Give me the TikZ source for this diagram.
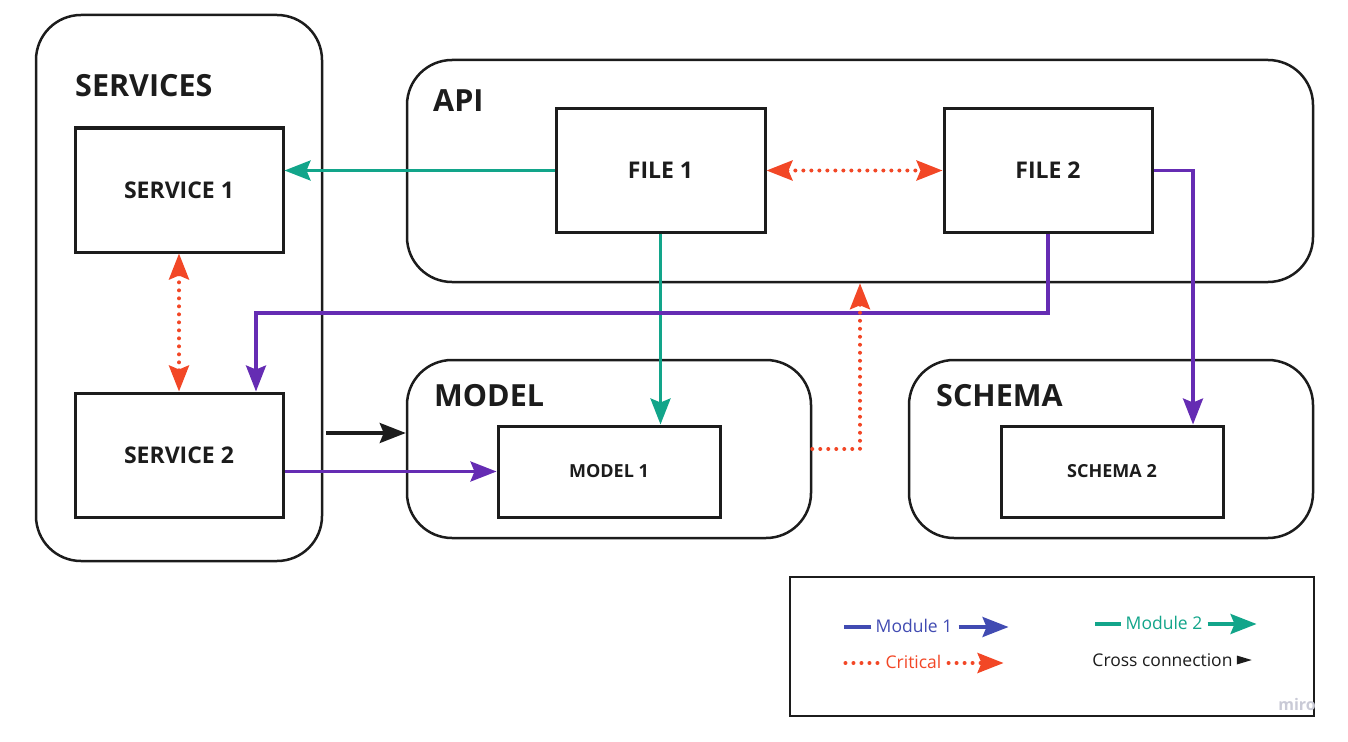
\documentclass[tikz,border=0pt]{standalone}
\usepackage{fontspec}
\setmainfont{Open Sans}
\usetikzlibrary{arrows.meta,calc}
\definecolor{mgreen}{HTML}{12A58A}
\definecolor{mpurple}{HTML}{652CB3}
\definecolor{mred}{HTML}{F24726}
\definecolor{mblue}{HTML}{414BB2}
\definecolor{ink}{HTML}{1C1C1C}
\definecolor{wm}{HTML}{C9CAD6}
\tikzset{
  >={Stealth[length=26pt,width=20pt,inset=4pt]},
  container/.style={draw=ink, line width=2.5pt, rounded corners=45pt, inner sep=0pt},
  box/.style={draw=ink, line width=3pt, fill=white, inner sep=0pt, text=ink,
              font=\bfseries\fontsize{23}{27}\selectfont},
  smallbox/.style={box, font=\bfseries\fontsize{18}{22}\selectfont},
  title/.style={anchor=base west, inner sep=0pt, text=ink,
                font=\bfseries\fontsize{30.5}{36}\selectfont},
  gline/.style={draw=mgreen, line width=3.3pt},
  pline/.style={draw=mpurple, line width=3.3pt},
  kline/.style={draw=ink, line width=3.3pt},
  bline/.style={draw=mblue, line width=3.3pt},
  rline/.style={draw=mred, line width=4pt, line cap=round, dash pattern=on 0pt off 8pt},
  ltext/.style={anchor=base, inner sep=0pt, font=\fontsize{17.5}{21}\selectfont},
  legendbox/.style={draw=ink, line width=2.5pt, inner sep=0pt}
}
\begin{document}
\begin{tikzpicture}[x=1pt,y=-1pt]
\useasboundingbox (0,0) rectangle (1348,741);

% containers
\node[container, minimum width=286pt, minimum height=546pt] (svc) at (179,288) {};
\node[container, minimum width=906pt, minimum height=222pt] (api) at (860,171) {};
\node[container, minimum width=404pt, minimum height=178pt] (mod) at (609,449) {};
\node[container, minimum width=404pt, minimum height=178pt] (sch) at (1111,449) {};

% titles
\node[title] (svct) at (75,97) {SERVICES};
\node[title] (apit) at (433,111) {API};
\node[title] (modt) at (434,406) {MODEL};
\node[title] (scht) at (936,406) {SCHEMA};

% boxes
\node[box, minimum width=208pt, minimum height=124pt] (s1) at (179,190) {SERVICE 1};
\node[box, minimum width=208pt, minimum height=124pt] (s2) at (179,455) {SERVICE 2};
\node[box, minimum width=209pt, minimum height=123pt] (f1) at (660.5,170.5) {FILE 1};
\node[box, minimum width=208pt, minimum height=123pt] (f2) at (1048,170.5) {FILE 2};
\node[smallbox, minimum width=222pt, minimum height=91pt] (m1) at (609,471.5) {MODEL 1};
\node[smallbox, minimum width=222pt, minimum height=91pt] (sc2) at (1112,471.5) {SCHEMA 2};

% connectors
\draw[gline, ->] (f1.west) -- (f1.west -| s1.east);
\draw[gline, ->] (f1.south) -- (f1.south |- m1.north);
\draw[rline, <->] (f1.east) -- (f2.west);
\draw[rline, <->] (s1.south) -- (s2.north);

\coordinate (p1) at (1193,170.5);
\draw[pline, ->] (f2.east) -- (p1) -- (p1 |- sc2.north);
\coordinate (p2) at (256,313);
\draw[pline, ->] (f2.south) |- (p2) -- (p2 |- s2.north);
\draw[pline, ->] (s2.east |- m1.west) -- (m1.west);

\coordinate (k0) at (326,433);
\draw[kline, ->] (k0) -- (k0 -| mod.west);

\coordinate (r1) at (860,449);
\draw[rline, ->] (mod.east) -- (r1) -- (r1 |- api.south);

% legend
\node[legendbox, minimum width=524pt, minimum height=139pt] (leg) at (1052,646.5) {};
\node[ltext, text=mblue] (lm1) at (914,632) {Module 1};
\draw[bline] ($(lm1.base west)+(-4,-5)$) -- ++(-27,0);
\draw[bline, ->] ($(lm1.base east)+(6,-5)$) -- ++(50,0);

\node[ltext, text=mred] (lcr) at (913.5,668) {Critical};
\draw[rline] ($(lcr.base west)+(-8,-5)$) -- ++(-32,0);
\draw[rline, ->] ($(lcr.base east)+(7,-5)$) -- ++(55,0);

\node[ltext, text=mgreen] (lm2) at (1164,629) {Module 2};
\draw[gline] ($(lm2.base west)+(-5,-5)$) -- ++(-26,0);
\draw[gline, ->] ($(lm2.base east)+(5,-5)$) -- ++(49,0);

\node[ltext, text=ink] (lcc) at (1162.5,666) {Cross connection};
\fill[ink] ($(lcc.base east)+(4,-10.5)$) -- ++(15,4.5) -- ++(-15,4.5) -- cycle;

\node[anchor=base, inner sep=0pt, text=wm, font=\bfseries\fontsize{16}{19}\selectfont] (miro) at (1297,710) {miro};
\end{tikzpicture}
\end{document}
